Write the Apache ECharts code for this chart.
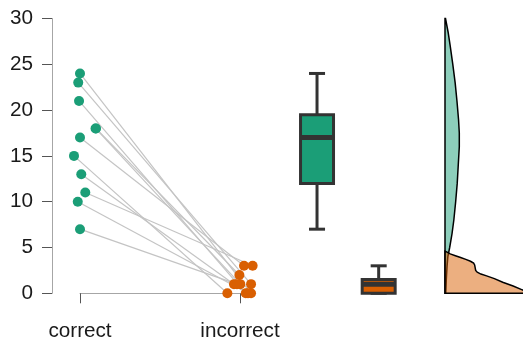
<!DOCTYPE html>
<html>
<head>
<meta charset="utf-8">
<script src="https://cdn.jsdelivr.net/npm/echarts@6/dist/echarts.min.js"></script>
<style>html,body{margin:0;padding:0;background:#fff}#c{width:523px;height:345px}</style>
</head>
<body>
<div id="c"></div>
<script>
// ---- data ----
const categories = ['correct', 'incorrect'];
const correctValues   = [24, 23, 21, 18, 18, 17, 15, 13, 11, 10, 7];
const incorrectValues = [0, 1, 0, 1, 2, 3, 0, 1, 3, 0, 1];
// horizontal jitter (in category units)
const correctJitter   = [0, -0.011, -0.006, 0.097, 0.1, 0, -0.0375, 0.008, 0.033, -0.014, 0];
const incorrectJitter = [0.069, 0.069, 0.036, 0.002, -0.004, 0.025, -0.079, -0.0375, 0.079, 0.05, -0.019];
const yTicks = [0, 5, 10, 15, 20, 25, 30];
// density outlines: [value, density]
const densityCorrect = [[0,0.003],[1.5,0.005],[3,0.008],[4,0.011],[5,0.018],[6.5,0.027],[8,0.034],[10,0.041],[12,0.047],[14,0.051],[16,0.055],[17.5,0.055],[19,0.052],[21,0.046],[23,0.039],[25,0.030],[27,0.020],[28.5,0.012],[30,0.002]];
const densityIncorrect = [[0,0.33],[0.4,0.295],[0.8,0.262],[1.2,0.222],[1.6,0.19],[1.9,0.16],[2.1,0.138],[2.3,0.124],[2.5,0.118],[2.8,0.116],[3.1,0.114],[3.3,0.11],[3.5,0.098],[3.7,0.08],[3.9,0.06],[4.1,0.04],[4.3,0.02],[4.5,0.008],[4.6,0]];

// ---- helpers ----
function quantile(arr, p) {
  const s = arr.slice().sort((a, b) => a - b);
  const h = (s.length - 1) * p, lo = Math.floor(h), hi = Math.ceil(h);
  return s[lo] + (s[hi] - s[lo]) * (h - lo);
}
function stats(arr) {
  return [Math.min(...arr), quantile(arr, 0.25), quantile(arr, 0.5), quantile(arr, 0.75), Math.max(...arr)];
}
const boxData = [[0].concat(stats(correctValues)), [1].concat(stats(incorrectValues))];
const green = '#1B9E77', orange = '#D95F02';
const fillGreen = 'rgba(27,158,119,0.5)', fillOrange = 'rgba(217,95,2,0.5)';
const FONT = "'Liberation Sans', Arial, sans-serif";

const pairData = correctValues.map((v, i) => [1 + correctJitter[i], v, 2 + incorrectJitter[i], incorrectValues[i]]);

const chart = echarts.init(document.getElementById('c'), null, {renderer: 'canvas'});
chart.setOption({
  animation: false,
  grid: [
    {left: 80, width: 160, top: 18.5, bottom: 51.7},
    {left: 286.2, width: 123.3, top: 18.5, bottom: 51.7},
    {left: 445, width: 78, top: 18.5, bottom: 51.7}
  ],
  xAxis: [
    {gridIndex: 0, type: 'value', min: 1, max: 2, interval: 1, offset: 14,
     axisLine: {lineStyle: {color: '#a6a6a6', width: 1}},
     axisTick: {length: 10, lineStyle: {color: '#555', width: 1}},
     axisLabel: {margin: 13, fontSize: 20.7, color: '#1a1a1a', fontFamily: FONT,
                 formatter: v => categories[v - 1]},
     splitLine: {show: false}},
    {gridIndex: 1, type: 'category', data: categories, boundaryGap: true, show: false},
    {gridIndex: 2, type: 'value', min: 0, max: 0.3, show: false}
  ],
  yAxis: [
    {gridIndex: 0, type: 'value', min: yTicks[0], max: yTicks[yTicks.length - 1], interval: 5, offset: 28,
     axisLine: {show: true, lineStyle: {color: '#a6a6a6', width: 1}},
     axisTick: {show: true, length: 10, lineStyle: {color: '#555', width: 1}},
     axisLabel: {margin: 19, fontSize: 20.7, color: '#1a1a1a', fontFamily: FONT},
     splitLine: {show: false}},
    {gridIndex: 1, type: 'value', min: 0, max: 30, show: false},
    {gridIndex: 2, type: 'value', min: 0, max: 30, show: false}
  ],
  series: [
    {type: 'custom', xAxisIndex: 0, yAxisIndex: 0, data: pairData, clip: false, z: 1,
     renderItem: (params, api) => {
       const a = api.coord([api.value(0), api.value(1)]);
       const b = api.coord([api.value(2), api.value(3)]);
       return {type: 'line', shape: {x1: a[0], y1: a[1], x2: b[0], y2: b[1]},
               style: {stroke: '#c4c4c4', lineWidth: 1.2}};
     }},
    {type: 'scatter', xAxisIndex: 0, yAxisIndex: 0, clip: false, z: 3,
     data: correctValues.map((v, i) => [1 + correctJitter[i], v]),
     symbolSize: 10, itemStyle: {color: green, opacity: 1}},
    {type: 'scatter', xAxisIndex: 0, yAxisIndex: 0, clip: false, z: 3,
     data: incorrectValues.map((v, i) => [2 + incorrectJitter[i], v]),
     symbolSize: 10, itemStyle: {color: orange, opacity: 1}},
    {type: 'custom', xAxisIndex: 1, yAxisIndex: 1, data: boxData, clip: false,
     renderItem: (params, api) => {
       const c = api.value(0);
       const band = api.size([1, 0])[0];
       const bw = band * 0.535, cw = band * 0.26;
       const pMin = api.coord([c, api.value(1)]), pQ1 = api.coord([c, api.value(2)]),
             pMed = api.coord([c, api.value(3)]), pQ3 = api.coord([c, api.value(4)]),
             pMax = api.coord([c, api.value(5)]);
       const x = pMin[0];
       const fill = c === 0 ? green : orange;
       const dark = '#333333';
       return {type: 'group', children: [
         {type: 'line', shape: {x1: x, y1: pQ3[1], x2: x, y2: pMax[1]}, style: {stroke: dark, lineWidth: 3}},
         {type: 'line', shape: {x1: x, y1: pQ1[1], x2: x, y2: pMin[1]}, style: {stroke: dark, lineWidth: 3}},
         {type: 'line', shape: {x1: x - cw / 2, y1: pMax[1], x2: x + cw / 2, y2: pMax[1]}, style: {stroke: dark, lineWidth: 3}},
         {type: 'line', shape: {x1: x - cw / 2, y1: pMin[1], x2: x + cw / 2, y2: pMin[1]}, style: {stroke: dark, lineWidth: 3}},
         {type: 'rect', shape: {x: x - bw / 2, y: pQ3[1], width: bw, height: pQ1[1] - pQ3[1]},
          style: {fill: fill, stroke: dark, lineWidth: 3}},
         {type: 'line', shape: {x1: x - bw / 2, y1: pMed[1], x2: x + bw / 2, y2: pMed[1]}, style: {stroke: dark, lineWidth: 5}}
       ]};
     }},
    {type: 'custom', xAxisIndex: 2, yAxisIndex: 2, data: [[0, 0], [1, 0]], clip: false,
     renderItem: (params, api) => {
       const dens = params.dataIndex === 0 ? densityCorrect : densityIncorrect;
       const pts = dens.map(d => api.coord([d[1], d[0]]));
       const first = dens[0], last = dens[dens.length - 1];
       pts.push(api.coord([0, last[0]]));
       pts.push(api.coord([0, first[0]]));
       return {type: 'polygon', shape: {points: pts},
               style: {fill: params.dataIndex === 0 ? fillGreen : fillOrange, stroke: '#000', lineWidth: 1.5}};
     }}
  ]
});
</script>
</body>
</html>
